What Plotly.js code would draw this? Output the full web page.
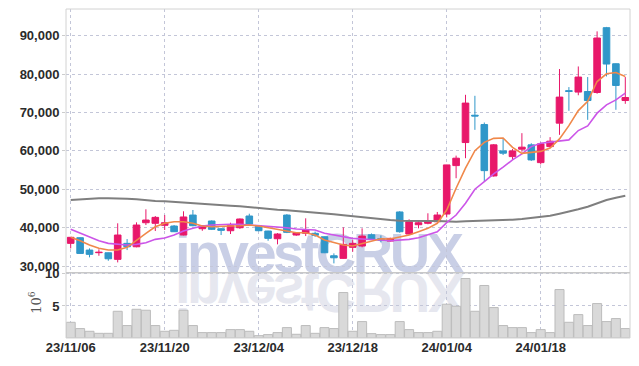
<!DOCTYPE html>
<html>
<head>
<meta charset="utf-8">
<script src="https://cdn.plot.ly/plotly-3.0.1.min.js"></script>
<style>
  html, body { margin:0; padding:0; background:#ffffff; }
  #wrap { position:relative; width:639px; height:366px; overflow:hidden; }
  .wm { position:absolute; left:175px; font-family:'Liberation Sans', Arial, sans-serif; font-weight:bold;
        font-size:56px; line-height:56px; letter-spacing:-3.5px; white-space:nowrap; z-index:0; }
  #wm1 { top:224.6px; color:#c9cfe6; }
  #wm2 { top:265.4px; color:#e6e7ef; transform:scaleY(-1); }
  #chart { position:absolute; left:0; top:0; width:639px; height:366px; z-index:1; }
</style>
</head>
<body>
<div id="wrap">
  <div class="wm" id="wm1">investCRUX</div>
  <div class="wm" id="wm2">investCRUX</div>
  <div id="chart"></div>
</div>
<script>
const dates = [
  "23/11/06","23/11/07","23/11/08","23/11/09","23/11/10","23/11/13","23/11/14","23/11/15","23/11/16","23/11/17",
  "23/11/20","23/11/21","23/11/22","23/11/23","23/11/24","23/11/27","23/11/28","23/11/29","23/11/30","23/12/01",
  "23/12/04","23/12/05","23/12/06","23/12/07","23/12/08","23/12/11","23/12/12","23/12/13","23/12/14","23/12/15",
  "23/12/18","23/12/19","23/12/20","23/12/21","23/12/22","23/12/26","23/12/27","23/12/28","24/01/02","24/01/03",
  "24/01/04","24/01/05","24/01/08","24/01/09","24/01/10","24/01/11","24/01/12","24/01/15","24/01/16","24/01/17",
  "24/01/18","24/01/19","24/01/22","24/01/23","24/01/24","24/01/25","24/01/26","24/01/29","24/01/30","24/01/31"
];
const openP = [
  35930,37400,34180,33500,33480,31760,35930,35040,41300,41150,
  40630,40440,38100,43300,39740,41750,39740,39220,40000,43050,
  40440,39140,37130,43300,38100,38540,38540,37650,32700,32020,
  34890,35230,38170,37130,36530,44100,38360,40780,41150,41560,
  43570,56180,62180,69300,66870,53490,60010,58520,60460,61580,
  56960,61130,67240,75700,75330,75480,75220,92100,82710,73130
];
const highP = [
  37600,37500,34620,34370,33550,41150,37050,41400,44800,43050,
  43300,40700,44280,44620,40600,41900,39900,41300,42400,43650,
  40600,39200,38600,43550,38800,42450,39000,37700,33320,40100,
  36790,39840,38500,38000,37400,44300,42190,41830,43760,44100,
  44000,58780,74620,74360,67400,61800,63140,60500,64630,62000,
  62200,63590,81330,76630,82000,79240,91140,92300,82800,79240
];
const lowP = [
  34620,33200,32280,32700,31390,30970,34180,34900,40700,39140,
  39400,38900,38000,40400,39200,39400,38100,38360,39700,40800,
  39100,36600,35670,38600,37900,37830,37600,33400,30710,31900,
  33740,34900,36900,36200,36400,38700,38200,39840,40900,41400,
  42700,52890,58110,65490,52000,53300,58940,57660,59800,57400,
  56500,60800,64190,70450,74500,68100,74900,79400,70710,72270
];
const closeP = [
  37500,33300,33060,33600,31910,38100,35040,40700,42000,42700,
  41300,38960,42800,40520,40520,39580,39320,40520,42270,40960,
  39220,37230,38360,38800,38620,39480,38020,33480,32170,35670,
  35930,37830,37050,36790,37230,38960,41560,41300,41750,43310,
  56360,58110,72460,69100,54870,61580,59410,60010,60980,57660,
  61840,62540,74020,75500,79240,73130,89410,82630,77050,73920
];
const ma5 = [
  37500,36610,35490,34630,34180,34180,34890,36790,38540,40260,
  41150,41570,41570,41150,40440,40260,40260,40440,40520,40700,
  40440,40000,39400,39140,38700,38700,38100,36790,36090,35490,
  35230,35930,36610,37130,37050,37500,38100,38960,39840,41150,
  44620,50280,55500,60060,62230,63270,63380,60930,59360,59620,
  59880,60770,63120,66590,70510,72930,78080,80090,80430,79380
];
const ma20 = [
  39580,38540,37650,36610,35930,35670,35490,35670,36090,36970,
  37310,38100,39140,39840,40440,40700,40890,40890,40890,40700,
  40700,40440,40260,40000,39660,39580,39400,38540,38100,37650,
  37230,37050,36970,36790,36610,36790,36970,37390,38100,38960,
  41310,43310,46370,50020,52000,54010,55760,57660,59230,61130,
  62020,62280,62700,62880,65310,66530,69840,72000,73300,75050
];
const ma60 = [
  47230,47400,47570,47670,47670,47670,47570,47400,47150,46970,
  46890,46700,46630,46440,46260,46100,45920,45740,45580,45320,
  45060,44880,44700,44540,44360,44170,44020,43760,43500,43240,
  42970,42790,42530,42270,42010,41830,41750,41750,41750,41750,
  41570,41570,41670,41750,41750,41830,41930,42090,42270,42530,
  42790,43130,43650,44170,44800,45480,46370,47230,47830,48350
];
const volume = [
  2.45,1.47,1.05,0.73,0.73,4.17,1.94,4.48,4.33,1.94,
  1.05,1.20,4.33,1.94,0.84,0.84,0.84,1.31,1.31,1.05,
  0.37,0.53,0.84,1.62,0.58,1.94,0.73,1.62,1.47,7.09,
  1.05,2.56,0.68,0.53,0.53,2.56,1.31,0.84,0.84,1.05,
  5.27,4.95,9.28,4.17,8.19,4.75,1.94,1.62,1.62,0.84,
  1.31,0.84,7.56,2.45,3.65,1.94,5.37,2.56,3.03,1.47
];
const priceTicks = [30000,40000,50000,60000,70000,80000,90000];
const volTicks = [5,10];
const xTickDates = ["23/11/06","23/11/20","23/12/04","23/12/18","24/01/04","24/01/18"];

const upColor = '#e8186a';
const downColor = '#3097c9';
const tickFont = {family:"'Liberation Sans', Arial, sans-serif", size:13, color:'#2b2b2b', weight:700};
const gridColor = '#c3c6d8';

const traces = [
  {
    type:'candlestick', x:dates, open:openP, high:highP, low:lowP, close:closeP,
    xaxis:'x', yaxis:'y',
    increasing:{line:{color:upColor, width:1}, fillcolor:upColor},
    decreasing:{line:{color:downColor, width:1}, fillcolor:downColor},
    whiskerwidth:0, showlegend:false, hoverinfo:'skip'
  },
  {type:'scatter', mode:'lines', x:dates, y:ma60, xaxis:'x', yaxis:'y', line:{color:'#7f7f7f', width:2}, showlegend:false, hoverinfo:'skip'},
  {type:'scatter', mode:'lines', x:dates, y:ma20, xaxis:'x', yaxis:'y', line:{color:'#cc55e8', width:1.6}, showlegend:false, hoverinfo:'skip'},
  {type:'scatter', mode:'lines', x:dates, y:ma5, xaxis:'x', yaxis:'y', line:{color:'#f0884a', width:1.6}, showlegend:false, hoverinfo:'skip'},
  {type:'bar', x:dates, y:volume, xaxis:'x', yaxis:'y2',
   marker:{color:'#d9d9d9', line:{color:'#bcbcbc', width:1}}, showlegend:false, hoverinfo:'skip'}
];

const layout = {
  width:639, height:366,
  margin:{l:66, r:9, t:9, b:28, pad:0},
  paper_bgcolor:'rgba(0,0,0,0)', plot_bgcolor:'rgba(0,0,0,0)',
  showlegend:false, bargap:0.04, boxgap:0.1, boxgroupgap:0.22,
  xaxis:{
    type:'category', range:[-0.5,59.5], anchor:'y2',
    tickmode:'array', tickvals:xTickDates, ticktext:xTickDates,
    tickfont:tickFont, ticks:'', showgrid:true, gridcolor:gridColor, griddash:'dot', gridwidth:1,
    showline:false, zeroline:false, rangeslider:{visible:false}, fixedrange:true
  },
  yaxis:{
    domain:[0.198,1], range:[28245,96966],
    tickmode:'array', tickvals:priceTicks, tickformat:',d',
    tickfont:tickFont, ticks:'outside', ticklen:3, tickcolor:'#cccccc',
    showgrid:true, gridcolor:gridColor, griddash:'dot', gridwidth:1,
    zeroline:false, showline:false
  },
  yaxis2:{
    domain:[0,0.198], range:[0,10.16],
    tickmode:'array', tickvals:volTicks, ticktext:['5','10'],
    tickfont:tickFont, ticks:'outside', ticklen:3, tickcolor:'#cccccc',
    showgrid:true, gridcolor:gridColor, griddash:'dot', gridwidth:1,
    zeroline:false, showline:false
  },
  annotations:[
    {text:'10<sup>6</sup>', xref:'paper', yref:'paper', x:-0.055, y:0.11, xanchor:'center', yanchor:'middle',
     textangle:-90, showarrow:false, font:{family:"'DejaVu Serif', serif", size:13, color:'#555555'}}
  ],
  shapes:[
    {type:'rect', xref:'paper', yref:'paper', x0:0, x1:1, y0:0, y1:1, line:{color:'#d2d2d2', width:1}, layer:'above'},
    {type:'line', xref:'paper', yref:'paper', x0:0, x1:1, y0:0.198, y1:0.198, line:{color:'#c8c8c8', width:1.5}, layer:'above'}
  ]
};

Plotly.newPlot('chart', traces, layout, {displayModeBar:false, staticPlot:true});
</script>
</body>
</html>
